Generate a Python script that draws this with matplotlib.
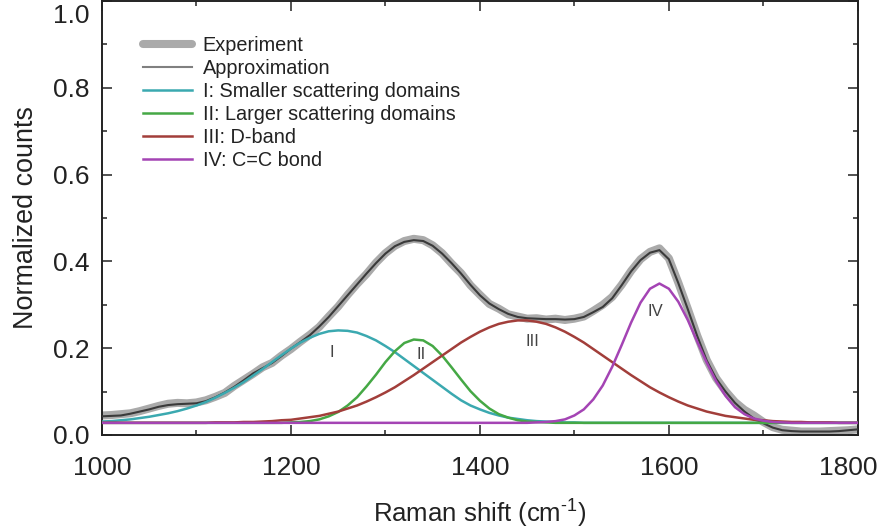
import matplotlib
matplotlib.use('Agg')
import matplotlib.pyplot as plt
import matplotlib.ticker as mticker

plt.rcParams['font.family'] = ['Liberation Sans', 'DejaVu Sans']
plt.rcParams['mathtext.fontset'] = 'custom'
plt.rcParams['mathtext.rm'] = 'Liberation Sans'

# Raman shift grid (cm-1), 10 cm-1 steps
shift = list(range(1000, 1810, 10))

experiment = [
    0.045, 0.046, 0.048, 0.050, 0.055, 0.061, 0.067, 0.072, 0.074, 0.073,
    0.075, 0.080, 0.088, 0.097, 0.113, 0.127, 0.141, 0.156, 0.166, 0.183,
    0.198, 0.215, 0.231, 0.249, 0.273, 0.296, 0.323, 0.348, 0.371, 0.397,
    0.419, 0.436, 0.447, 0.452, 0.449, 0.437, 0.419, 0.395, 0.373, 0.345,
    0.323, 0.302, 0.291, 0.278, 0.273, 0.268, 0.269, 0.266, 0.268, 0.265,
    0.268, 0.273, 0.286, 0.300, 0.318, 0.346, 0.378, 0.405, 0.422, 0.430,
    0.407, 0.351, 0.291, 0.229, 0.173, 0.131, 0.101, 0.076, 0.058, 0.045,
    0.030, 0.018, 0.012, 0.010, 0.008, 0.008, 0.008, 0.009, 0.010, 0.011,
    0.013]

approximation = [
    0.043, 0.044, 0.045, 0.049, 0.054, 0.059, 0.065, 0.069, 0.071, 0.072,
    0.073, 0.078, 0.087, 0.098, 0.111, 0.126, 0.142, 0.154, 0.166, 0.182,
    0.199, 0.214, 0.230, 0.250, 0.272, 0.297, 0.322, 0.347, 0.372, 0.396,
    0.418, 0.435, 0.445, 0.449, 0.447, 0.436, 0.418, 0.396, 0.372, 0.346,
    0.322, 0.303, 0.290, 0.279, 0.272, 0.269, 0.268, 0.267, 0.267, 0.266,
    0.267, 0.272, 0.283, 0.295, 0.315, 0.345, 0.377, 0.403, 0.420, 0.426,
    0.405, 0.350, 0.290, 0.228, 0.172, 0.130, 0.100, 0.074, 0.054, 0.038,
    0.027, 0.017, 0.011, 0.009, 0.008, 0.008, 0.008, 0.008, 0.009, 0.011,
    0.013]

band_I = [
    0.031, 0.032, 0.034, 0.036, 0.039, 0.042, 0.046, 0.050, 0.055, 0.061,
    0.068, 0.076, 0.086, 0.097, 0.109, 0.122, 0.137, 0.152, 0.168, 0.184,
    0.199, 0.213, 0.224, 0.233, 0.239, 0.241, 0.240, 0.236, 0.228, 0.218,
    0.205, 0.191, 0.175, 0.159, 0.143, 0.127, 0.111, 0.095, 0.080, 0.068,
    0.059, 0.051, 0.045, 0.040, 0.037, 0.034, 0.032, 0.031, 0.030, 0.029,
    0.029, 0.028, 0.028, 0.028, 0.028, 0.028, 0.028, 0.028, 0.028, 0.028,
    0.028, 0.028, 0.028, 0.028, 0.028, 0.028, 0.028, 0.028, 0.028, 0.028,
    0.028, 0.028, 0.028, 0.028, 0.028, 0.028, 0.028, 0.028, 0.028, 0.028,
    0.028]

band_II = [
    0.028, 0.028, 0.028, 0.028, 0.028, 0.028, 0.028, 0.028, 0.028, 0.028,
    0.028, 0.028, 0.028, 0.028, 0.028, 0.028, 0.028, 0.028, 0.028, 0.028,
    0.029, 0.030, 0.032, 0.036, 0.043, 0.053, 0.068, 0.087, 0.112, 0.139,
    0.168, 0.193, 0.212, 0.220, 0.218, 0.205, 0.183, 0.156, 0.128, 0.101,
    0.079, 0.061, 0.048, 0.040, 0.034, 0.031, 0.030, 0.029, 0.028, 0.028,
    0.028, 0.028, 0.028, 0.028, 0.028, 0.028, 0.028, 0.028, 0.028, 0.028,
    0.028, 0.028, 0.028, 0.028, 0.028, 0.028, 0.028, 0.028, 0.028, 0.028,
    0.028, 0.028, 0.028, 0.028, 0.028, 0.028, 0.028, 0.028, 0.028, 0.028,
    0.028]

band_III = [
    0.028, 0.028, 0.028, 0.028, 0.028, 0.028, 0.028, 0.028, 0.028, 0.028,
    0.028, 0.028, 0.029, 0.029, 0.029, 0.030, 0.030, 0.031, 0.032, 0.034,
    0.035, 0.038, 0.041, 0.044, 0.049, 0.054, 0.061, 0.068, 0.077, 0.087,
    0.098, 0.110, 0.124, 0.138, 0.153, 0.168, 0.183, 0.198, 0.213, 0.226,
    0.238, 0.248, 0.256, 0.261, 0.264, 0.264, 0.261, 0.256, 0.248, 0.238,
    0.226, 0.213, 0.198, 0.183, 0.168, 0.153, 0.138, 0.124, 0.110, 0.098,
    0.087, 0.077, 0.068, 0.061, 0.054, 0.049, 0.044, 0.041, 0.038, 0.035,
    0.034, 0.032, 0.031, 0.030, 0.030, 0.029, 0.029, 0.029, 0.028, 0.028,
    0.028]

band_IV = [
    0.028, 0.028, 0.028, 0.028, 0.028, 0.028, 0.028, 0.028, 0.028, 0.028,
    0.028, 0.028, 0.028, 0.028, 0.028, 0.028, 0.028, 0.028, 0.028, 0.028,
    0.028, 0.028, 0.028, 0.028, 0.028, 0.028, 0.028, 0.028, 0.028, 0.028,
    0.028, 0.028, 0.028, 0.028, 0.028, 0.028, 0.028, 0.028, 0.028, 0.028,
    0.028, 0.028, 0.028, 0.028, 0.028, 0.028, 0.029, 0.030, 0.032, 0.036,
    0.045, 0.059, 0.082, 0.114, 0.157, 0.207, 0.259, 0.305, 0.337, 0.349,
    0.337, 0.307, 0.265, 0.215, 0.167, 0.124, 0.090, 0.064, 0.048, 0.038,
    0.033, 0.030, 0.029, 0.028, 0.028, 0.028, 0.028, 0.028, 0.028, 0.028,
    0.028]

band_names = ['I: Smaller scattering domains', 'II: Larger scattering domains',
              'III: D-band', 'IV: C=C bond']
band_colors = ['#3ba9b0', '#45a845', '#a23e3a', '#a444b4']
band_tags = ['I', 'II', 'III', 'IV']
tag_pos = [(1243, 0.19), (1338, 0.186), (1456, 0.216), (1586, 0.285)]

fig = plt.figure(figsize=(8.83, 5.31), dpi=100)
ax = fig.add_axes([0.1155, 0.1808, 0.856, 0.8173])

ax.plot(shift, experiment, color='#aaaaaa', lw=5.8, solid_capstyle='round',
        label='Experiment', zorder=2)
ax.plot(shift, approximation, color='#3a3a3a', lw=1.5, label='Approximation', zorder=3)
for vals, name, col in zip([band_I, band_II, band_III, band_IV], band_names, band_colors):
    ax.plot(shift, vals, color=col, lw=1.8, label=name, zorder=4)

for tag, (tx, ty) in zip(band_tags, tag_pos):
    ax.text(tx, ty, tag, fontsize=12, color='#444444', ha='center', va='center')

ax.set_xlim(1000, 1800)
ax.set_ylim(0, 1.0)
ax.xaxis.set_major_locator(mticker.MultipleLocator(200))
ax.xaxis.set_minor_locator(mticker.MultipleLocator(100))
ax.yaxis.set_major_locator(mticker.MultipleLocator(0.2))
ax.yaxis.set_minor_locator(mticker.MultipleLocator(0.1))

# edge labels 1.0 and 1800 are placed by hand so they stay inside the picture
ax.yaxis.set_major_formatter(mticker.FuncFormatter(lambda v, p: '' if v > 0.99 else '%.1f' % v))
ax.xaxis.set_major_formatter(mticker.FuncFormatter(lambda v, p: '' if v > 1799 else '%d' % v))

ax.tick_params(which='both', direction='in', top=True, right=True, width=1.1,
               color='#222222', labelcolor='#222222', labelsize=19)
ax.tick_params(which='major', length=7)
ax.tick_params(which='minor', length=3.5)
ax.tick_params(axis='x', pad=15)
ax.tick_params(axis='y', pad=9)
for sp in ax.spines.values():
    sp.set_linewidth(1.4)
    sp.set_color('#222222')

ax.annotate('1.0', xy=(0, 1), xycoords='axes fraction', xytext=(-9, -11),
            textcoords='offset points', ha='right', va='center',
            fontsize=19, color='#222222')
ax.annotate('1800', xy=(1, 0), xycoords='axes fraction', xytext=(-7, -15),
            textcoords='offset points', ha='center', va='top',
            fontsize=19, color='#222222')

ax.set_xlabel('Raman shift (cm$^{\\text{-1}}$)', fontsize=18.5, color='#222222', labelpad=12)
ax.set_ylabel('Normalized counts', fontsize=19.4, color='#222222', labelpad=10)

leg = ax.legend(loc='upper left', bbox_to_anchor=(0.054, 0.92), frameon=False,
                fontsize=14.3, handlelength=2.46, handletextpad=0.55,
                labelspacing=0.2, borderpad=0, borderaxespad=0)
leg.legend_handles[1].set_color('#808080')
for t in leg.get_texts():
    t.set_color('#222222')

fig.savefig('out.png', dpi=100)
